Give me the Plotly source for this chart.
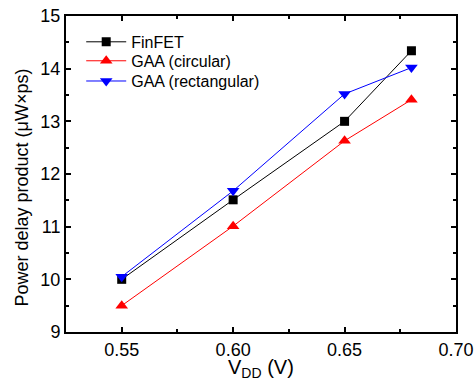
import plotly.graph_objects as go

vdd = [0.55, 0.60, 0.65, 0.68]
finfet = [10.0, 11.51, 13.0, 14.34]
gaa_circ = [9.5, 11.01, 12.63, 13.41]
gaa_rect = [10.05, 11.68, 13.52, 14.02]

FONT = "Liberation Sans, Arial"

fig = go.Figure()
fig.add_trace(go.Scatter(x=vdd, y=finfet, name="FinFET", mode="lines+markers",
                         line=dict(color="black", width=1), legend="legend",
                         marker=dict(symbol="square", size=9, color="black")))
fig.add_trace(go.Scatter(x=vdd, y=gaa_circ, name="GAA (circular)", mode="lines+markers",
                         line=dict(color="red", width=1), legend="legend2",
                         marker=dict(symbol="triangle-up", size=11, color="red")))
fig.add_trace(go.Scatter(x=vdd, y=gaa_rect, name="GAA (rectangular)", mode="lines+markers",
                         line=dict(color="blue", width=1), legend="legend3",
                         marker=dict(symbol="triangle-down", size=11, color="blue")))

axis_common = dict(showgrid=False, zeroline=False, showline=True, linecolor="black",
                   linewidth=2, mirror="ticks", ticks="inside", ticklen=5, tickwidth=1.5,
                   tickcolor="black", automargin=False,
                   tickfont=dict(size=18, color="black", family=FONT))
fig.update_xaxes(range=[0.525, 0.70], tickvals=[0.55, 0.60, 0.65, 0.70],
                 ticktext=["0.55", "0.60", "0.65", "0.70"],
                 minor=dict(ticks="inside", ticklen=3, tickwidth=1.5, tickcolor="black",
                            tickvals=[0.575, 0.625, 0.675]),
                 **axis_common)
fig.update_yaxes(range=[9, 15], tickvals=[9, 10, 11, 12, 13, 14, 15],
                 minor=dict(ticks="inside", ticklen=3, tickwidth=1.5, tickcolor="black",
                            tickvals=[9.5, 10.5, 11.5, 12.5, 13.5, 14.5]),
                 **axis_common)

fig.add_annotation(text="Power delay product (μW×ps)", textangle=-90,
                   xref="paper", yref="paper", x=-0.113, y=0.457,
                   xanchor="center", yanchor="middle", showarrow=False,
                   font=dict(size=18, color="black", family=FONT))
fig.add_annotation(text="V<sub>DD</sub> (V)",
                   xref="paper", yref="paper", x=0.50, y=-0.069,
                   xanchor="center", yanchor="top", showarrow=False,
                   font=dict(size=20, color="black", family=FONT))

leg = dict(xanchor="left", yanchor="middle", x=0.039, bgcolor="rgba(0,0,0,0)",
           font=dict(size=16, color="black", family=FONT), itemwidth=40)
fig.update_layout(width=476, height=379, margin=dict(l=66, r=20, t=16, b=47),
                  plot_bgcolor="white", paper_bgcolor="white",
                  font=dict(family=FONT, color="black"), showlegend=True,
                  legend=dict(y=0.918, **leg),
                  legend2=dict(y=0.858, **leg),
                  legend3=dict(y=0.794, **leg))
fig.write_html("out.html")
